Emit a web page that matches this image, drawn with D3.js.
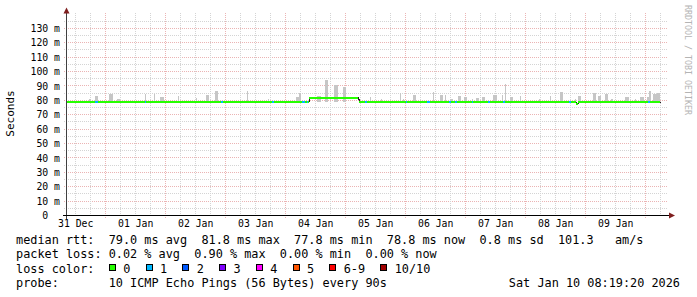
<!DOCTYPE html>
<html lang="en">
  <head>
    <meta charset="utf-8" />
    <title>SmokePing median rtt</title>
    <script src="https://cdn.jsdelivr.net/npm/d3@7"></script>
    <style>
      html, body { margin: 0; padding: 0; background: #fff; }
      svg { display: block; }
      text { font-family: "DejaVu Sans Mono", monospace; white-space: pre; }
    </style>
  </head>
  <body>
    <div id="root"></div>

    <script type="text/javascript">
      /************************************
       * data (hours are counted from graphStart)
       ************************************/
      const graphStart = Date.UTC(2025, 11, 31, 8, 19, 20);
      const graphEnd = Date.UTC(2026, 0, 10, 8, 19, 20);

      const dayLabels = ["31 Dec", "01 Jan", "02 Jan", "03 Jan", "04 Jan",
        "05 Jan", "06 Jan", "07 Jan", "08 Jan", "09 Jan"];
      const yTicks = [0, 10, 20, 30, 40, 50, 60, 70, 80, 90, 100, 110, 120, 130];

      // median rtt: [fromHour, toHour, ms]
      const medianSteps = [
        [0, 97, 79.0],
        [97, 116.4, 81.8],
        [116.4, 116.8, 80.4],
        [116.8, 203.8, 78.8],
        [203.8, 204.6, 77.8],
        [204.6, 237.2, 78.8]
      ];

      // periods where 1 of 10 pings was lost: [fromHour, toHour]
      const lossOne = [
        [11.4, 12.6], [31.4, 31.8], [61.8, 62.6], [82.2, 83.0], [94.2, 95.4],
        [96.0, 96.6], [119.4, 120.2], [135.8, 136.2], [144.2, 145.2],
        [153.0, 153.8], [155.4, 156.2], [162.2, 162.6], [168.6, 169.4],
        [174.6, 175.4], [201.0, 201.8], [232.6, 233.4]
      ];

      // smoke (spread of the pings): [fromHour, toHour, top ms]
      const smoke = [
        [9, 9.8, 80.6], [11.4, 12.6, 83.2], [17, 18.6, 84.4], [20.2, 21.4, 81.0],
        [31.4, 31.8, 84.5], [35, 35.4, 84.5], [37.4, 39, 82.4], [44.6, 45, 83.2],
        [51.8, 52.2, 81.5], [55.8, 57, 83.8], [59.4, 60.6, 86.5], [72.2, 72.6, 86.4],
        [80.6, 81, 80.8], [91.8, 93, 82.5], [93, 93.8, 85.3], [100.2, 101.8, 83.2],
        [103.4, 104.6, 94.0], [107, 108.6, 90.5], [110.6, 111.8, 89.4],
        [121.4, 121.8, 82.5], [125.8, 126.2, 80.8], [133.4, 133.8, 85.3],
        [134.6, 135, 81.2], [138.6, 139.8, 83.8], [146.6, 147, 85.6],
        [149.4, 150.6, 83.8], [151.4, 151.8, 83.8], [153.4, 154.6, 81.2],
        [156.6, 157.8, 83.2], [159, 160.2, 82.5], [162.2, 162.6, 81.0],
        [163.8, 165, 81.5], [166.2, 167.4, 82.5], [170.6, 172.2, 83.8],
        [174.2, 174.6, 83.8], [175.4, 175.8, 91.2], [177.4, 178.6, 82.5],
        [181.4, 181.8, 83.2], [189, 189.4, 81.2], [193.4, 193.8, 83.2],
        [197.4, 198.6, 85.9], [203.4, 203.8, 81.2], [204.6, 205.8, 83.2],
        [210.6, 211.8, 85.2], [212.6, 213.8, 83.2], [215.4, 216.6, 84.4],
        [217.8, 218.6, 81.2], [223.4, 225, 82.3], [227.4, 227.8, 81.2],
        [229.4, 231, 82.5], [232.2, 233, 82.5], [233, 233.8, 86.5],
        [234.6, 236.2, 84.3], [236.2, 237.4, 84.8]
      ];

      const lossLabels = ["0", "1", "2", "3", "4", "5", "6-9", "10/10"];
      const lossColors = ["#26ff00", "#00b8ff", "#0059ff", "#7e00ff",
        "#ff00ff", "#ff5500", "#ff0000", "#a10000"];

      const legendLines = [
        "median rtt:  79.0 ms avg  81.8 ms max  77.8 ms min  78.8 ms now  0.8 ms sd  101.3   am/s",
        "packet loss: 0.02 % avg  0.90 % max  0.00 % min  0.00 % now",
        "loss color:",
        "probe:       10 ICMP Echo Pings (56 Bytes) every 90s"
      ];
      const stamp = "Sat Jan 10 08:19:20 2026";

      /**********************************
       * chart
       *************************************/
      const width = 697;
      const height = 297;
      const plotLeft = 66.5;
      const plotRight = 666.5;
      const plotTop = 14;
      const plotBottom = 215.5;

      const hour = (h) => graphStart + h * 3600e3;
      const crisp = (v) => Math.floor(v) + 0.5;

      const x = d3.scaleUtc().domain([graphStart, graphEnd]).range([plotLeft, plotRight]);
      const y = d3.scaleLinear().domain([0, 140]).range([plotBottom, plotTop]);

      const svg = d3.select("#root").append("svg")
        .attr("width", width)
        .attr("height", height);

      svg.append("rect").attr("width", width).attr("height", height).attr("fill", "#fff");

      // grid
      const grid = svg.append("g").attr("shape-rendering", "crispEdges")
        .attr("stroke-dasharray", "1,1").attr("fill", "none");

      const minorY = d3.range(5, 140, 10);
      grid.selectAll(".hmin").data(minorY).enter().append("line")
        .attr("x1", 64).attr("x2", 668)
        .attr("y1", (d) => crisp(y(d))).attr("y2", (d) => crisp(y(d)))
        .attr("stroke", "#d4d4d4");

      grid.selectAll(".hmaj").data(yTicks.filter((d) => d > 0)).enter().append("line")
        .attr("x1", 64).attr("x2", 668)
        .attr("y1", (d) => crisp(y(d))).attr("y2", (d) => crisp(y(d)))
        .attr("stroke", "#ebb4b4");

      const sixHours = d3.utcHour.every(6).range(new Date(graphStart), new Date(graphEnd));
      grid.selectAll(".vmin").data(sixHours.filter((d) => d.getUTCHours() !== 0)).enter().append("line")
        .attr("x1", (d) => crisp(x(d))).attr("x2", (d) => crisp(x(d)))
        .attr("y1", plotTop - 1).attr("y2", plotBottom)
        .attr("stroke", "#d4d4d4");

      const midnights = d3.utcDay.range(new Date(graphStart), new Date(graphEnd));
      grid.selectAll(".vmaj").data(midnights).enter().append("line")
        .attr("x1", (d) => crisp(x(d))).attr("x2", (d) => crisp(x(d)))
        .attr("y1", plotTop - 1).attr("y2", plotBottom + 3)
        .attr("stroke", "#ebb4b4");

      // smoke
      svg.append("g").attr("shape-rendering", "crispEdges")
        .selectAll("rect").data(smoke).enter().append("rect")
        .attr("x", (d) => Math.round(x(hour(d[0]))))
        .attr("width", (d) => Math.max(1, Math.round(x(hour(d[1]))) - Math.round(x(hour(d[0])))))
        .attr("y", (d) => Math.round(y(d[2])))
        .attr("height", (d) => Math.round(y(78.8)) - Math.round(y(d[2])))
        .attr("fill", "#c6c6c6");

      // median: thin dark step line underneath, coloured line on top
      const stepPoints = [];
      medianSteps.forEach((s) => {
        stepPoints.push([hour(s[0]), s[2]]);
        stepPoints.push([hour(s[1]), s[2]]);
      });
      svg.append("path")
        .attr("d", d3.line().x((d) => Math.round(x(d[0])) + 0.5).y((d) => crisp(y(d[1])))(stepPoints))
        .attr("fill", "none").attr("stroke", "#202020").attr("stroke-width", 1)
        .attr("shape-rendering", "crispEdges");

      const medianAt = (h) => {
        const s = medianSteps.find((m) => h >= m[0] && h < m[1]);
        return s ? s[2] : medianSteps[medianSteps.length - 1][2];
      };

      const segLine = (g, data, color) => g.selectAll(null).data(data).enter().append("line")
        .attr("x1", (d) => Math.round(x(hour(d[0]))))
        .attr("x2", (d) => Math.max(Math.round(x(hour(d[0]))) + 1, Math.round(x(hour(d[1])))))
        .attr("y1", (d) => Math.round(y(medianAt(d[0]))))
        .attr("y2", (d) => Math.round(y(medianAt(d[0]))))
        .attr("stroke", color).attr("stroke-width", 2);

      const med = svg.append("g").attr("shape-rendering", "crispEdges");
      segLine(med, medianSteps.filter((s) => s[1] - s[0] > 0.5), lossColors[0]);
      segLine(med, lossOne, lossColors[1]);

      // axes
      svg.append("line").attr("x1", plotLeft).attr("x2", plotLeft)
        .attr("y1", 11).attr("y2", plotBottom + 3)
        .attr("stroke", "#404040").attr("shape-rendering", "crispEdges");
      svg.append("line").attr("x1", 63).attr("x2", 671)
        .attr("y1", plotBottom).attr("y2", plotBottom)
        .attr("stroke", "#000").attr("shape-rendering", "crispEdges");
      svg.append("path").attr("d", "M63.5,13.5L69.5,13.5L66.5,7.5Z").attr("fill", "#7f1f1f");
      svg.append("path").attr("d", "M669,212.5L669,218.5L675,215.5Z").attr("fill", "#7f1f1f");

      // y tick labels
      svg.append("g").selectAll("text").data(yTicks).enter().append("text")
        .attr("x", 60).attr("y", (d) => y(d) + 3.6)
        .attr("text-anchor", "end").attr("font-size", "9.8px").attr("fill", "#000")
        .text((d) => (d === 0 ? "0  " : d + " m"));

      // day labels, centred at noon
      svg.append("g").selectAll("text").data(dayLabels).enter().append("text")
        .attr("x", (d, i) => x(Date.UTC(2025, 11, 31 + i, 12)))
        .attr("y", 227.3)
        .attr("text-anchor", "middle").attr("font-size", "9.8px").attr("fill", "#000")
        .text((d) => d);

      svg.append("text")
        .attr("transform", "translate(14,113.5) rotate(-90)")
        .attr("text-anchor", "middle").attr("font-size", "11px").attr("fill", "#000")
        .text("Seconds");

      svg.append("text")
        .attr("transform", "translate(684.5,5) rotate(90)")
        .attr("font-size", "8.3px").attr("fill", "#b4b4b4")
        .text("RRDTOOL / TOBI OETIKER");

      // legend
      const baselines = [244.3, 258.3, 272.5, 286.7];
      svg.append("g").selectAll("text").data(legendLines).enter().append("text")
        .attr("x", 16).attr("y", (d, i) => baselines[i])
        .attr("font-size", "11.85px").attr("fill", "#000")
        .text((d) => d);

      svg.append("text").attr("x", 680).attr("y", baselines[3])
        .attr("text-anchor", "end").attr("font-size", "11.85px").attr("fill", "#000")
        .text(stamp);

      let bx = 109;
      const key = svg.append("g");
      lossLabels.forEach((label, i) => {
        key.append("rect")
          .attr("x", bx + 0.5).attr("y", 264.5).attr("width", 6).attr("height", 6)
          .attr("fill", lossColors[i]).attr("stroke", "#000").attr("shape-rendering", "crispEdges");
        key.append("text")
          .attr("x", bx + 14.3).attr("y", baselines[2])
          .attr("font-size", "11.85px").attr("fill", "#000")
          .text(label);
        bx += 14.3 + 7.13 * label.length + 15.3;
      });
    </script>
  </body>
</html>
